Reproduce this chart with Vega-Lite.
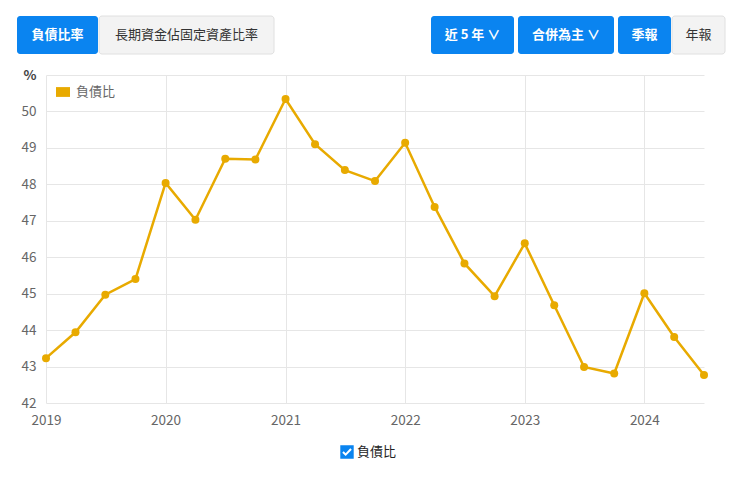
{
  "$schema": "https://vega.github.io/schema/vega-lite/v6.json",
  "padding": {"left": 17, "top": 15, "right": 5, "bottom": 5},
  "background": "white",
  "spacing": 13,
  "resolve": {
    "scale": {"fill": "independent", "stroke": "independent"},
    "legend": {"fill": "independent", "stroke": "independent"}
  },
  "vconcat": [
    {
      "spacing": 156,
      "hconcat": [
        {
          "spacing": 0,
          "hconcat": [
            {
              "width": 81, "height": 38,
              "data": {"values": [{"label": "負債比率"}]},
              "layer": [
                {"mark": {"type": "rect", "fill": "#0a84f0", "cornerRadius": 3}, "encoding": {}},
                {"mark": {"type": "text", "color": "white", "fontWeight": "bold", "fontSize": 13}, "encoding": {"text": {"field": "label"}}}
              ]
            },
            {
              "width": 175, "height": 38,
              "data": {"values": [{"label": "長期資金佔固定資產比率"}]},
              "layer": [
                {"mark": {"type": "rect", "fill": "#f3f3f3", "stroke": "#e0e0e0", "cornerRadius": 3}, "encoding": {}},
                {"mark": {"type": "text", "color": "#333333", "fontSize": 13}, "encoding": {"text": {"field": "label"}}}
              ]
            }
          ]
        },
        {
          "spacing": 4,
          "hconcat": [
            {
              "width": 83, "height": 38,
              "data": {"values": [{"label": "近 5 年 ∨"}]},
              "layer": [
                {"mark": {"type": "rect", "fill": "#0a84f0", "cornerRadius": 3}, "encoding": {}},
                {"mark": {"type": "text", "color": "white", "fontWeight": "bold", "fontSize": 13}, "encoding": {"text": {"field": "label"}}}
              ]
            },
            {
              "width": 96, "height": 38,
              "data": {"values": [{"label": "合併為主 ∨"}]},
              "layer": [
                {"mark": {"type": "rect", "fill": "#0a84f0", "cornerRadius": 3}, "encoding": {}},
                {"mark": {"type": "text", "color": "white", "fontWeight": "bold", "fontSize": 13}, "encoding": {"text": {"field": "label"}}}
              ]
            },
            {
              "spacing": 0,
              "hconcat": [
                {
                  "width": 53, "height": 38,
                  "data": {"values": [{"label": "季報"}]},
                  "layer": [
                    {"mark": {"type": "rect", "fill": "#0a84f0", "cornerRadius": 3}, "encoding": {}},
                    {"mark": {"type": "text", "color": "white", "fontWeight": "bold", "fontSize": 13}, "encoding": {"text": {"field": "label"}}}
                  ]
                },
                {
                  "width": 53, "height": 38,
                  "data": {"values": [{"label": "年報"}]},
                  "layer": [
                    {"mark": {"type": "rect", "fill": "#f3f3f3", "stroke": "#e0e0e0", "cornerRadius": 3}, "encoding": {}},
                    {"mark": {"type": "text", "color": "#333333", "fontSize": 13}, "encoding": {"text": {"field": "label"}}}
                  ]
                }
              ]
            }
          ]
        }
      ]
    },
    {
      "spacing": 0,
      "bounds": "flush",
      "resolve": {
        "scale": {"fill": "independent", "stroke": "independent"},
        "legend": {"fill": "independent", "stroke": "independent"}
      },
      "hconcat": [
        {
          "width": 29, "height": 328,
          "data": {"values": [{"label": ""}]},
          "mark": {"type": "rect", "opacity": 0},
          "encoding": {}
        },
        {
          "width": 658,
          "height": 328,
          "data": {
            "values": [
              {"date": "2019/01/01", "value": 43.23, "series": "負債比"},
              {"date": "2019/04/01", "value": 43.94, "series": "負債比"},
              {"date": "2019/07/01", "value": 44.97, "series": "負債比"},
              {"date": "2019/10/01", "value": 45.40, "series": "負債比"},
              {"date": "2020/01/01", "value": 48.04, "series": "負債比"},
              {"date": "2020/04/01", "value": 47.03, "series": "負債比"},
              {"date": "2020/07/01", "value": 48.70, "series": "負債比"},
              {"date": "2020/10/01", "value": 48.68, "series": "負債比"},
              {"date": "2021/01/01", "value": 50.34, "series": "負債比"},
              {"date": "2021/04/01", "value": 49.10, "series": "負債比"},
              {"date": "2021/07/01", "value": 48.39, "series": "負債比"},
              {"date": "2021/10/01", "value": 48.09, "series": "負債比"},
              {"date": "2022/01/01", "value": 49.14, "series": "負債比"},
              {"date": "2022/04/01", "value": 47.38, "series": "負債比"},
              {"date": "2022/07/01", "value": 45.83, "series": "負債比"},
              {"date": "2022/10/01", "value": 44.93, "series": "負債比"},
              {"date": "2023/01/01", "value": 46.38, "series": "負債比"},
              {"date": "2023/04/01", "value": 44.68, "series": "負債比"},
              {"date": "2023/07/01", "value": 42.99, "series": "負債比"},
              {"date": "2023/10/01", "value": 42.81, "series": "負債比"},
              {"date": "2024/01/01", "value": 45.01, "series": "負債比"},
              {"date": "2024/04/01", "value": 43.81, "series": "負債比"},
              {"date": "2024/07/01", "value": 42.77, "series": "負債比"}
            ]
          },
          "encoding": {
            "x": {
              "field": "date",
              "type": "temporal",
              "scale": {"domain": [{"year": 2019, "month": 1, "date": 1}, {"year": 2024, "month": 7, "date": 1}]},
              "axis": {
                "title": null,
                "format": "%Y",
                "tickCount": {"interval": "year", "step": 1},
                "domain": false,
                "ticks": false,
                "labelPadding": 10,
                "labelFontSize": 13.5,
                "labelColor": "#666666",
                "gridColor": "#e6e6e6",
                "labelFlush": false
              }
            },
            "y": {
              "field": "value",
              "type": "quantitative",
              "scale": {"domain": [42, 51], "nice": false, "zero": false},
              "axis": {
                "title": null,
                "values": [42, 43, 44, 45, 46, 47, 48, 49, 50, 51],
                "labelExpr": "datum.value == 51 ? '%' : datum.label",
                "labelFontWeight": {"condition": {"test": "datum.value == 51", "value": "bold"}, "value": "normal"},
                "labelColor": {"condition": {"test": "datum.value == 51", "value": "#444444"}, "value": "#666666"},
                "domain": false,
                "ticks": false,
                "labelPadding": 10,
                "labelFontSize": 13.5,
                "gridColor": "#e6e6e6"
              }
            }
          },
          "layer": [
            {
              "mark": {"type": "line", "strokeWidth": 2.5},
              "encoding": {
                "stroke": {
                  "field": "series",
                  "type": "nominal",
                  "scale": {"range": ["#e8aa00"]},
                  "legend": {
                    "title": null,
                    "orient": "none",
                    "legendX": 294,
                    "legendY": 370,
                    "symbolType": "M-1,-1L1,-1L1,1L-1,1Z M-0.71,0.11L-0.2,0.61L0.71,-0.35L0.49,-0.55L-0.2,0.19L-0.49,-0.11Z",
                    "symbolSize": 180,
                    "labelFontSize": 13,
                    "labelColor": "#222222",
                    "labelOffset": 3,
                    "encode": {
                      "symbols": {
                        "update": {
                          "fill": {"value": "#0a84f0"},
                          "stroke": {"value": "#0a84f0"},
                          "strokeWidth": {"value": 0},
                          "opacity": {"value": 1}
                        }
                      }
                    }
                  }
                }
              }
            },
            {
              "mark": {"type": "point", "filled": true, "size": 64, "opacity": 1},
              "encoding": {
                "fill": {
                  "field": "series",
                  "type": "nominal",
                  "scale": {"range": ["#e8aa00"]},
                  "legend": {
                    "title": null,
                    "orient": "top-left",
                    "offset": 10,
                    "symbolType": "M-1,-0.7H1V0.7H-1Z",
                    "symbolSize": 196,
                    "symbolStrokeWidth": 0,
                    "labelFontSize": 13,
                    "labelColor": "#666666",
                    "labelOffset": 6
                  }
                }
              }
            }
          ]
        }
      ]
    }
  ],
  "config": {
    "font": "Noto Sans CJK TC",
    "view": {"stroke": null}
  }
}
